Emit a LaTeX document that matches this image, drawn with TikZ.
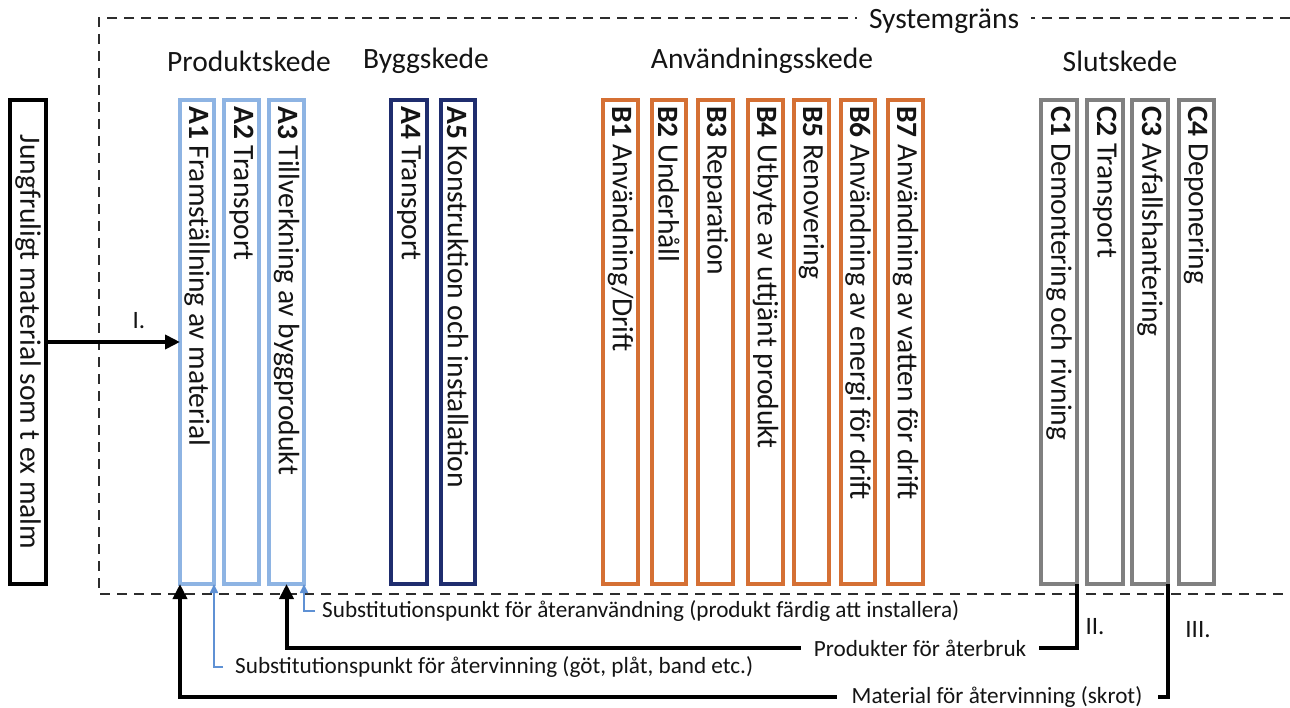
\documentclass[tikz,border=0pt]{standalone}
\usepackage{fontspec}
\setmainfont{Carlito}
\usetikzlibrary{arrows.meta}
\definecolor{lblue}{RGB}{142,180,227}
\definecolor{navy}{RGB}{31,45,110}
\definecolor{orng}{RGB}{213,112,52}
\definecolor{gry}{RGB}{128,128,128}
\definecolor{sblue}{RGB}{95,145,212}
\definecolor{txt}{RGB}{20,20,20}
\newcommand\mystage[6]{%
  \node[stagebox, draw=#4, minimum width={#3-#2}] (#1) at (#2,100) {};
  \node[coltext] (#1t) at ({(#2+#3)/2},106) {\textbf{#5} #6};
}
\begin{document}
\begin{tikzpicture}[x=1pt,y=-1pt,
  stagebox/.style={rectangle,line width=3.1pt,minimum height=484pt,inner sep=0pt,outer sep=0pt,anchor=north west},
  coltext/.style={rotate=-90,anchor=west,inner sep=0pt,text=txt,font=\fontsize{29.5}{31}\selectfont},
  head/.style={text=txt,font=\fontsize{29.5}{31}\selectfont,inner sep=0pt},
  small/.style={text=txt,font=\fontsize{23.2}{25}\selectfont,inner sep=0pt},
  roman/.style={text=txt,font=\fontsize{25}{27}\selectfont,inner sep=0pt},
  sysb/.style={line width=2.4pt,draw={rgb,255:red,45;green,45;blue,45},dash pattern=on 10pt off 7pt},
  blk/.style={line width=4pt,draw=black,line cap=butt,line join=miter},
  blkarrow/.style={blk,-{Triangle[length=15pt,width=14pt]}},
  bl/.style={line width=1.6pt,draw=sblue,-{Triangle[length=9pt,width=8pt]}},
]
\useasboundingbox (0,0) rectangle (1290,708);
\fill[white] (0,0) rectangle (1290,708);

% system boundary
\draw[sysb] (1290,18) -- (99,18) -- (99,594) -- (1290,594);
\node[head,fill=white,inner xsep=12pt,inner ysep=2pt] (sys) at (944,21) {Systemgräns};

% headers
\node[head] (hA) at (249,61) {Produktskede};
\node[head] (hB) at (426,61) {Byggskede};
\node[head] (hU) at (762,61) {Användningsskede};
\node[head] (hC) at (1120,61) {Slutskede};

% virgin material
\node[stagebox,draw=black,minimum width=36pt] (jung) at (10,100) {};
\node[coltext,anchor=center] (jungt) at (jung.center) {Jungfruligt material som t ex malm};

% stages
\mystage{a1}{180}{214}{lblue}{A1}{Framställning av material}
\mystage{a2}{224}{259}{lblue}{A2}{Transport}
\mystage{a3}{269}{304}{lblue}{A3}{Tillverkning av byggprodukt}
\mystage{a4}{391}{427}{navy}{A4}{Transport}
\mystage{a5}{441}{475}{navy}{A5}{Konstruktion och installation}
\mystage{b1}{603}{638}{orng}{B1}{Användning/Drift}
\mystage{b2}{652}{686}{orng}{B2}{Underhåll}
\mystage{b3}{698}{733}{orng}{B3}{Reparation}
\mystage{b4}{748}{783}{orng}{B4}{Utbyte av uttjänt produkt}
\mystage{b5}{794}{829}{orng}{B5}{Renovering}
\mystage{b6}{841}{875}{orng}{B6}{Användning av energi för drift}
\mystage{b7}{888}{923}{orng}{B7}{Användning av vatten för drift}
\mystage{c1}{1041}{1077}{gry}{C1}{Demontering och rivning}
\mystage{c2}{1087}{1123}{gry}{C2}{Transport}
\mystage{c3}{1132}{1168}{gry}{C3}{Avfallshantering}
\mystage{c4}{1179}{1214}{gry}{C4}{Deponering}

% I.
\draw[blkarrow] (jung.east) -- (jung.east -| a1.west);
\node[roman] (lI) at (139,321) {I.};

% substitution points
\node[small,anchor=west] (sub2) at (322,611) {Substitutionspunkt för återanvändning (produkt färdig att installera)};
\node[small,anchor=west] (sub1) at (235,667) {Substitutionspunkt för återvinning (göt, plåt, band etc.)};
\draw[bl] ([xshift=-7pt]sub2.west) -| (a3.south east);
\draw[bl] ([xshift=-12pt]sub1.west) -| (a1.south east);

% return flows
\node[small,inner xsep=13pt] (prod) at (920,648) {Produkter för återbruk};
\draw[blk] (c1.south east) |- (prod.east);
\draw[blkarrow] (prod.west) -| (a3.south);
\node[roman] (lII) at (1095,627) {II.};

\node[small,inner xsep=15pt] (mat) at (997,697) {Material för återvinning (skrot)};
\draw[blk] (c3.south east) |- (mat.east);
\draw[blkarrow] (mat.west) -| (a1.south west);
\node[roman] (lIII) at (1198,630) {III.};
\end{tikzpicture}
\end{document}
